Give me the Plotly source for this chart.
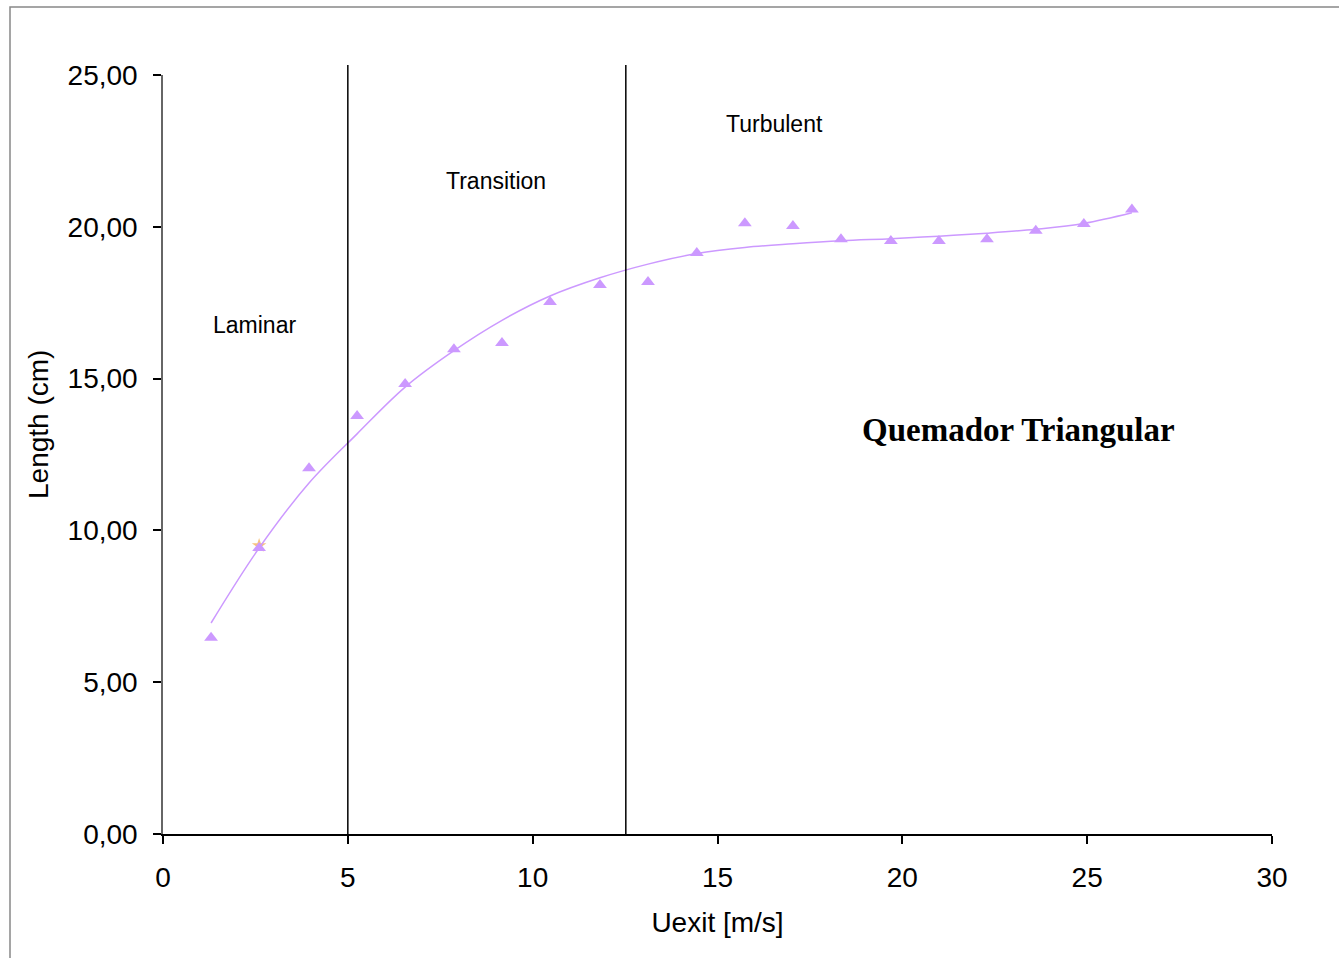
import plotly.graph_objects as go

# Measured data (triangles)
uexit = [1.30, 2.60, 3.95, 5.25, 6.55, 7.87, 9.17, 10.47, 11.82, 13.12,
         14.44, 15.74, 17.04, 18.34, 19.69, 20.99, 22.29, 23.61, 24.91, 26.21]
length = [6.46, 9.42, 12.05, 13.77, 14.82, 15.97, 16.17, 17.52, 18.08, 18.18,
          19.14, 20.12, 20.03, 19.59, 19.53, 19.53, 19.59, 19.87, 20.09, 20.57]

# Trendline
trend_x = [1.30, 2.60, 3.95, 5.25, 6.55, 7.87, 9.17, 10.47, 11.82, 13.12,
           14.44, 15.74, 17.04, 18.34, 19.69, 20.99, 22.29, 23.61, 24.91, 26.21]
trend_y = [6.95, 9.42, 11.56, 13.18, 14.72, 15.92, 16.92, 17.72, 18.32, 18.77,
           19.12, 19.32, 19.44, 19.54, 19.61, 19.69, 19.79, 19.92, 20.11, 20.46]

# Extra point (orange star)
star_x = [2.60]
star_y = [9.50]

# Regime boundaries
boundaries = [5.0, 12.52]
region_labels = ["Laminar", "Transition", "Turbulent"]
region_x = [2.48, 9.0, 16.55]
region_y = [16.75, 21.5, 23.4]

fig = go.Figure()
fig.add_trace(go.Scatter(x=star_x, y=star_y, mode="markers",
                         marker=dict(symbol="star", size=11, color="#f7c27e"),
                         showlegend=False, hoverinfo="skip"))
fig.add_trace(go.Scatter(x=uexit, y=length, mode="markers",
                         marker=dict(symbol="triangle-up", size=12, color="#cc99ff"),
                         showlegend=False))
fig.add_trace(go.Scatter(x=trend_x, y=trend_y, mode="lines",
                         line=dict(color="#cc99ff", width=1.5, shape="spline", smoothing=1.0),
                         showlegend=False))

for b in boundaries:
    fig.add_shape(type="line", xref="x", yref="paper", x0=b, x1=b, y0=0, y1=1.0132,
                  line=dict(color="black", width=1.5))

# chart-area frame
fig.add_shape(type="rect", xref="paper", yref="paper",
              x0=(10 - 163) / 1109, x1=1.2, y0=-0.3, y1=(834 - 7) / 759,
              line=dict(color="#888888", width=1.5), layer="below")

for t, x, y in zip(region_labels, region_x, region_y):
    fig.add_annotation(x=x, y=y, text=t, showarrow=False,
                       font=dict(family="Liberation Sans, Arial", size=23, color="black"))

fig.add_annotation(x=23.15, y=13.3, text="<b>Quemador Triangular</b>", showarrow=False,
                   font=dict(family="Liberation Serif, serif", size=33, color="black"))

# y-axis title (placed as in the reference, slightly above the plot centre)
fig.add_annotation(xref="paper", yref="paper", x=(38 - 163) / 1109, y=(834 - 425) / 759,
                   xanchor="center", yanchor="middle",
                   text="Length (cm)", textangle=-90, showarrow=False,
                   font=dict(family="Liberation Sans, Arial", size=28, color="black"))

fig.update_layout(
    width=1339, height=958,
    margin=dict(l=163, r=67, t=75, b=124),
    paper_bgcolor="white", plot_bgcolor="white",
    separators=", ",
    font=dict(family="Liberation Sans, Arial", size=28, color="black"),
    xaxis=dict(range=[0, 30], tickvals=[0, 5, 10, 15, 20, 25, 30],
               showgrid=False, zeroline=False, showline=True, linecolor="black", linewidth=1.5,
               ticks="outside", ticklen=8, tickcolor="black", tickwidth=1.5,
               ticklabelstandoff=10,
               title=dict(text="Uexit [m/s]", standoff=20, font=dict(size=28))),
    yaxis=dict(range=[0, 25], tickvals=[0, 5, 10, 15, 20, 25], tickformat=".2f",
               showgrid=False, zeroline=False, showline=True, linecolor="#666666", linewidth=1.5,
               ticks="outside", ticklen=8, tickcolor="black", tickwidth=1.5,
               ticklabelstandoff=10),
)

fig.write_html("out.html")
